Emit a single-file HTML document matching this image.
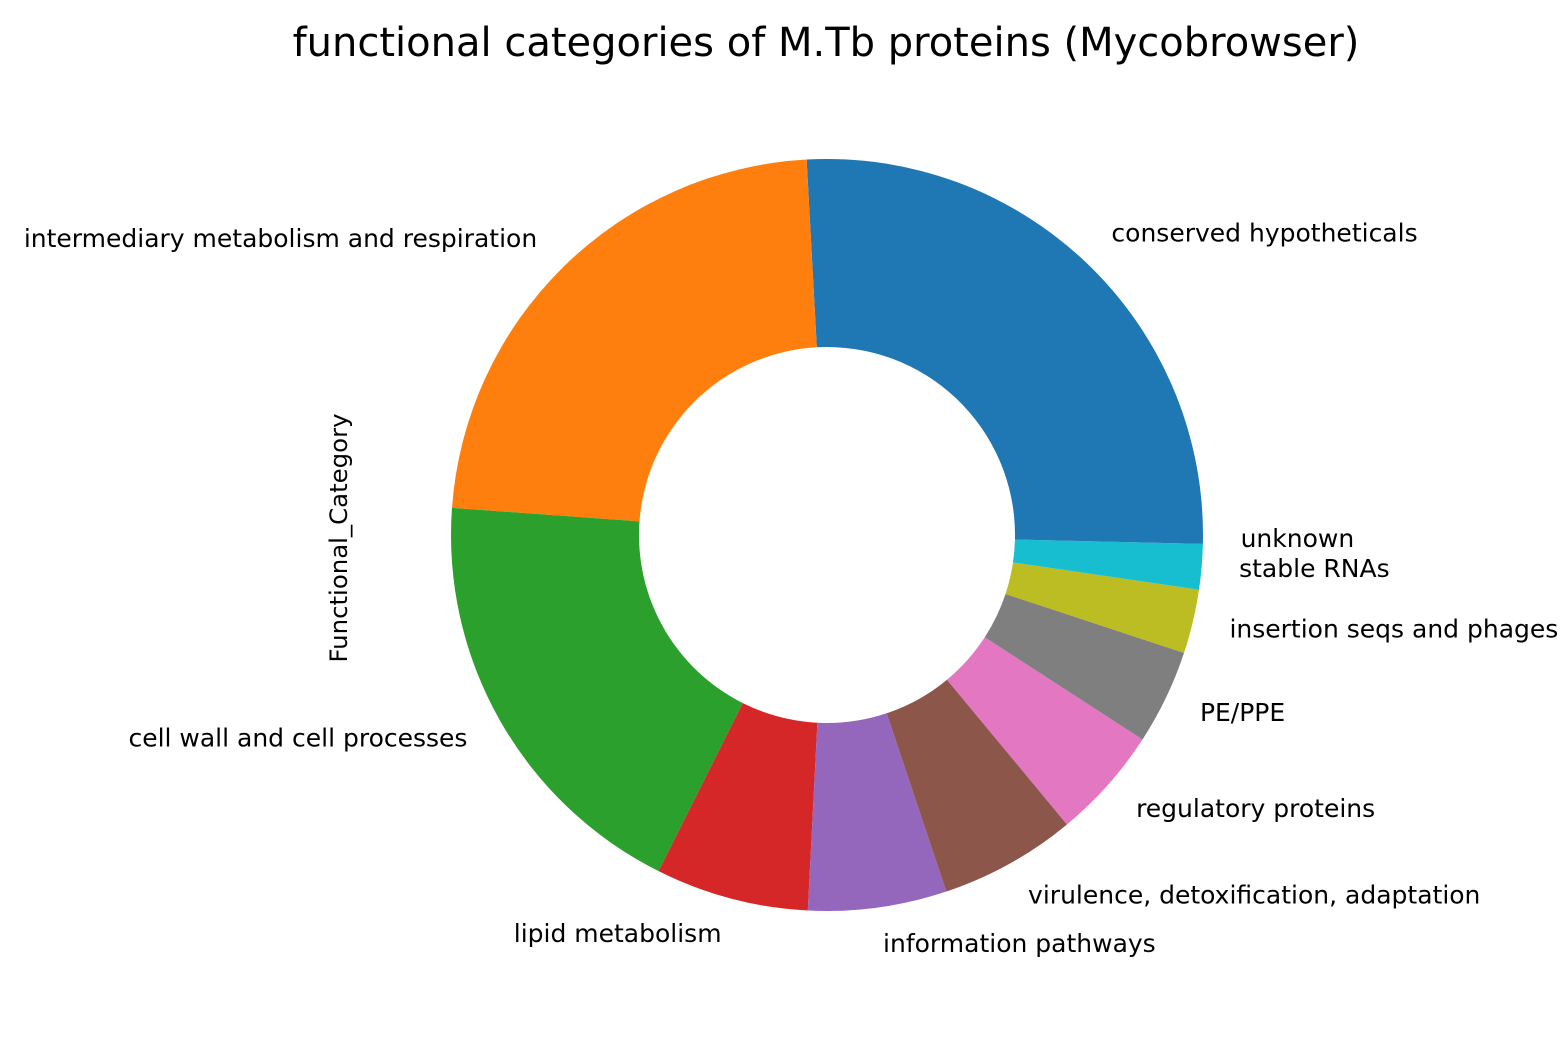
<!DOCTYPE html>
<html><head><meta charset="utf-8"><style>
html,body{margin:0;padding:0;background:#fff;}
svg{display:block;font-family:"DejaVu Sans","Liberation Sans",sans-serif;}
</style></head><body>
<svg id="chart" width="1560" height="1040" viewBox="0 0 1560 1040">
<text x="826" y="56" font-size="40" text-anchor="middle" fill="#000">functional categories of M.Tb proteins (Mycobrowser)</text>
<text transform="translate(347,538) rotate(-90)" font-size="24.4" text-anchor="middle" fill="#000">Functional_Category</text>
<g id="slices"></g><g id="labels"></g>
</svg>
<script>
const categories = ["conserved hypotheticals","intermediary metabolism and respiration","cell wall and cell processes","lipid metabolism","information pathways","virulence, detoxification, adaptation","regulatory proteins","PE/PPE","insertion seqs and phages","stable RNAs","unknown"];
const counts = [1034, 919, 750, 263, 238, 235, 193, 163, 110, 78, 15];
const colors = ["#1f77b4","#ff7f0e","#2ca02c","#d62728","#9467bd","#8c564b","#e377c2","#7f7f7f","#bcbd22","#17becf","#1f77b4"];
const cx=827, cy=535, R=376, r0=188;
const NS="http://www.w3.org/2000/svg";
const total=counts.reduce((a,b)=>a+b,0);
let a0=0;
const sg=document.getElementById('slices'), lg=document.getElementById('labels');
function pt(rad,a){return [cx+rad*Math.cos(a), cy-rad*Math.sin(a)];}
counts.forEach((v,i)=>{
  const a1=a0+v/total*2*Math.PI;
  const large=(a1-a0)>Math.PI?1:0;
  const p1=pt(R,a0),p2=pt(R,a1),p3=pt(r0,a1),p4=pt(r0,a0);
  const d=`M${p1[0]},${p1[1]} A${R},${R} 0 ${large} 0 ${p2[0]},${p2[1]} L${p3[0]},${p3[1]} A${r0},${r0} 0 ${large} 1 ${p4[0]},${p4[1]} Z`;
  const path=document.createElementNS(NS,'path');
  path.setAttribute('d',d);path.setAttribute('fill',colors[i]);
  
  
  sg.appendChild(path);
  const am=(a0+a1)/2;
  const lp=pt(R*1.1,am);
  const t=document.createElementNS(NS,'text');
  t.setAttribute('x',lp[0]);t.setAttribute('y',lp[1]+7);
  t.setAttribute('font-size','25');
  t.setAttribute('text-anchor',Math.cos(am)>0?'start':'end');
  t.textContent=categories[i];
  
  
  lg.appendChild(t);
  a0=a1;
});
</script>
</body></html>
